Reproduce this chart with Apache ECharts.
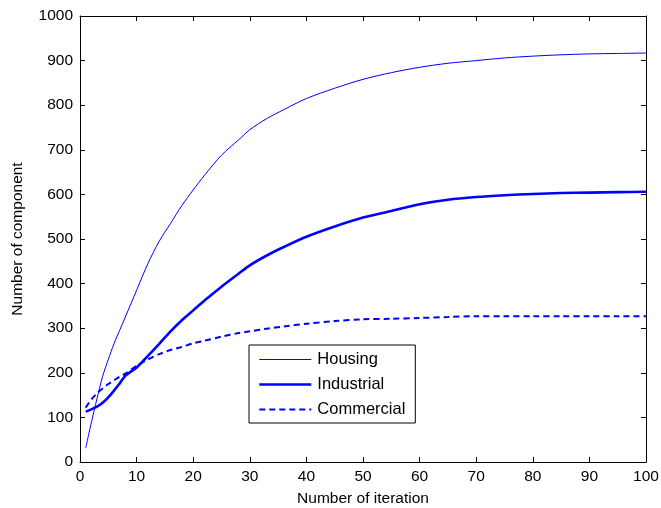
<!DOCTYPE html>
<html>
<head>
<meta charset="utf-8">
<script src="https://cdn.jsdelivr.net/npm/echarts@6/dist/echarts.min.js"></script>
<style>
html,body{margin:0;padding:0;background:#fff;}
#main{width:661px;height:508px;}
</style>
</head>
<body>
<div id="main"></div>
<script>
var iterations = [1,2,3,4,5,6,7,8,10,12,14,16,18,20,22,25,28,30,33,36,40,45,50,55,60,65,70,75,80,85,90,95,100];
var housing    = [31,88,142,192,230,265,295,325,385,445,495,535,575,610,643,688,722,745,770,790,815,838,858,873,885,894,900,906,910,913,915,916,917];
var industrial = [113,118,124,133,145,160,176,193,212,238,265,293,318,340,362,393,422,441,463,482,505,528,548,563,578,588,594,598,601,603,604,605,606];
var commercial = [122,140,154,165,175,183,191,198,216,230,242,251,258,266,272,281,289,293,299,304,310,316,320,321,323,325,327,327,327,327,327,327,327];
var seriesNames = ['Housing','Industrial','Commercial'];
var xTicks = [0,10,20,30,40,50,60,70,80,90,100];
var yTicks = [0,100,200,300,400,500,600,700,800,900,1000];

function pairs(ys){ return iterations.map(function(x,i){ return [x, ys[i]]; }); }

var FONT = 'Liberation Sans';
var BLUE = '#0000ff';
var lineWidths = [1, 2.6, 2];
var lineTypes = ['solid', 'solid', [6,4]];
var axisLine = {show:true, onZero:false, lineStyle:{color:'#000', width:1}};
var tick = {show:true, inside:true, length:5, lineStyle:{color:'#000'}};
var labelFont = {fontFamily:FONT, fontSize:15.5, color:'#000'};

var chart = echarts.init(document.getElementById('main'), null, {renderer:'canvas'});
chart.setOption({
  animation:false,
  backgroundColor:'#fff',
  grid:{left:80, right:15, top:16, bottom:46, containLabel:false, outerBoundsMode:'none'},
  legend:{
    orient:'vertical', left:249, top:345,
    backgroundColor:'#fff', borderColor:'#000', borderWidth:1,
    padding:[6,10,5,9], itemWidth:52, itemHeight:10, itemGap:8,
    itemStyle:{opacity:0},
    lineStyle:{color:BLUE},
    textStyle:{fontFamily:FONT, fontSize:16.5, color:'#000', padding:[0,0,0,1]},
    data:seriesNames.map(function(n,i){
      return {name:n, lineStyle:{width:lineWidths[i], type:lineTypes[i], color:BLUE, opacity:1}};
    })
  },
  xAxis:[{
    type:'value', min:0, max:100, interval:10, position:'bottom',
    name:'Number of iteration', nameLocation:'middle', nameGap:29,
    nameTextStyle:labelFont,
    axisLine:axisLine, axisTick:tick, splitLine:{show:false},
    axisLabel:Object.assign({margin:7,
      formatter:function(v){ return xTicks.indexOf(v)>=0 ? String(v) : ''; }}, labelFont)
  },{
    type:'value', min:0, max:100, interval:10, position:'top',
    axisLine:axisLine, axisTick:tick, axisLabel:{show:false}, splitLine:{show:false}
  }],
  yAxis:[{
    type:'value', min:0, max:1000, interval:100, position:'left',
    name:'Number of component', nameLocation:'middle', nameGap:54, nameRotate:90,
    nameTextStyle:labelFont,
    axisLine:axisLine, axisTick:tick, splitLine:{show:false},
    axisLabel:Object.assign({margin:7,
      formatter:function(v){ return yTicks.indexOf(v)>=0 ? String(v) : ''; }}, labelFont)
  },{
    type:'value', min:0, max:1000, interval:100, position:'right',
    axisLine:axisLine, axisTick:tick, axisLabel:{show:false}, splitLine:{show:false}
  }],
  series:seriesNames.map(function(n,i){
    return {
      name:n, type:'line', data:pairs([housing, industrial, commercial][i]),
      symbol:'none', smooth:0.3,
      lineStyle:{color:BLUE, width:lineWidths[i], type:lineTypes[i]},
      itemStyle:{color:BLUE}
    };
  })
});
</script>
</body>
</html>
